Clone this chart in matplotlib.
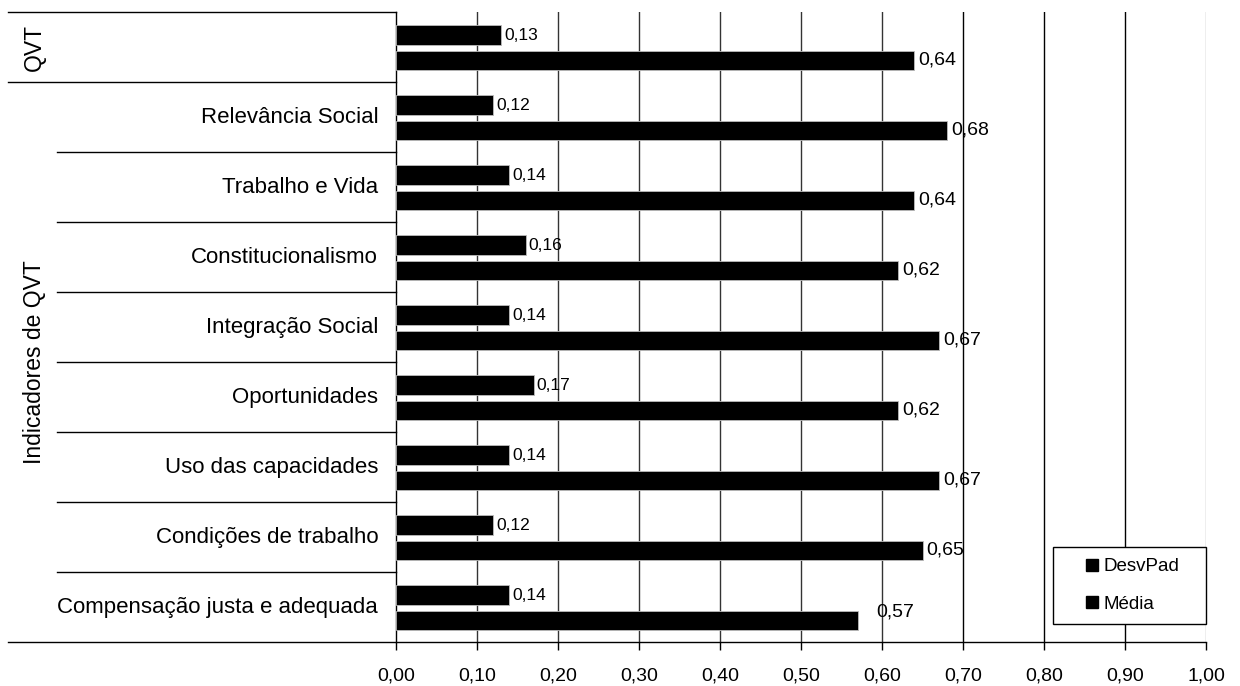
import matplotlib.pyplot as plt
import matplotlib.transforms as mtransforms
from matplotlib.lines import Line2D
import numpy as np

plt.rcParams['font.family'] = ['Liberation Sans', 'DejaVu Sans']

# indicators, top to bottom
categorias = ["QVT", "Relevância Social", "Trabalho e Vida", "Constitucionalismo",
              "Integração Social", "Oportunidades", "Uso das capacidades",
              "Condições de trabalho", "Compensação justa e adequada"]
desvpad = [0.13, 0.12, 0.14, 0.16, 0.14, 0.17, 0.14, 0.12, 0.14]
media = [0.64, 0.68, 0.64, 0.62, 0.67, 0.62, 0.67, 0.65, 0.57]

# outer grouping of the category axis: (label, first index, last index)
grupos = [("QVT", 0, 0), ("Indicadores de QVT", 1, 8)]

fig = plt.figure(figsize=(12.4, 6.86), dpi=100)
ax = fig.add_axes([0.3194, 0.0641, 0.6532, 0.9184])

y = np.arange(len(categorias))
h = 0.28
ax.barh(y - 0.17, desvpad, height=h, color='black', edgecolor='#bbbbbb', linewidth=0.6, zorder=3)
ax.barh(y + 0.19, media, height=h, color='black', edgecolor='#bbbbbb', linewidth=0.6, zorder=3)

ax.set_xlim(0, 1.0)
ax.set_ylim(len(categorias) - 0.5, -0.5)

# value labels
for yi, v in zip(y, desvpad):
    ax.annotate(f"{v:.2f}".replace('.', ','), (v, yi - 0.17), xytext=(2, 0),
                textcoords='offset points', va='center', ha='left', fontsize=12.5, zorder=4)
nudge = {8: (13, 6)}
for i, (yi, v) in enumerate(zip(y, media)):
    dx, dy = nudge.get(i, (3, 0))
    ax.annotate(f"{v:.2f}".replace('.', ','), (v, yi + 0.19), xytext=(dx, dy),
                textcoords='offset points', va='center', ha='left', fontsize=14, zorder=4)

# vertical gridlines
xt = np.round(np.arange(0, 1.01, 0.1), 2)
for x in xt[1:]:
    col = '#aaaaaa' if x == 1.0 else ('black' if x >= 0.7 else '#333333')
    ax.axvline(x, color=col, linewidth=1.0, zorder=1)

ax.set_xticks(xt)
ax.set_xticklabels([f"{x:.2f}".replace('.', ',') for x in xt], fontsize=14)
ax.tick_params(axis='x', direction='out', length=6, width=1, pad=12)
ax.set_yticks([])

for s in ['top', 'right']:
    ax.spines[s].set_visible(False)
ax.spines['left'].set_linewidth(1)
ax.spines['bottom'].set_visible(False)

# category axis: labels and separators drawn outside the plot area
tr = mtransforms.blended_transform_factory(ax.transAxes, ax.transData)
inner_x = -0.4185
outer_x = -0.479
for i, nome in enumerate(categorias):
    if i == 0:
        continue
    ax.text(-0.022, i, nome, transform=tr, ha='right', va='center', fontsize=16)

bordas_grupo = set()
for nome, a, b in grupos:
    bordas_grupo.add(a - 0.5)
    bordas_grupo.add(b + 0.5)
    ax.text(-0.447, (a + b) / 2, nome, transform=tr, rotation=90,
            ha='center', va='center', fontsize=16.5)
for k in range(len(categorias) + 1):
    yb = k - 0.5
    x0 = outer_x if yb in bordas_grupo else inner_x
    x1 = 1.0 if yb == len(categorias) - 0.5 else 0
    ax.plot([x0, x1], [yb, yb], transform=tr, color='black', linewidth=1.0,
            clip_on=False, zorder=5)

handles = [Line2D([], [], marker='s', linestyle='none', color='black', markersize=9, label='DesvPad'),
           Line2D([], [], marker='s', linestyle='none', color='black', markersize=9, label='Média')]
leg = ax.legend(handles=handles, loc='lower left', bbox_to_anchor=(0.811, 0.0286, 0.189, 0.13),
                mode='expand', fontsize=13.5, fancybox=False, framealpha=1, edgecolor='black',
                handlelength=2.95, handletextpad=-0.83, labelspacing=1.08,
                borderpad=0.6, borderaxespad=0)
leg.get_frame().set_linewidth(1.0)
leg.set_zorder(6)

fig.savefig('out.png', dpi=100)
